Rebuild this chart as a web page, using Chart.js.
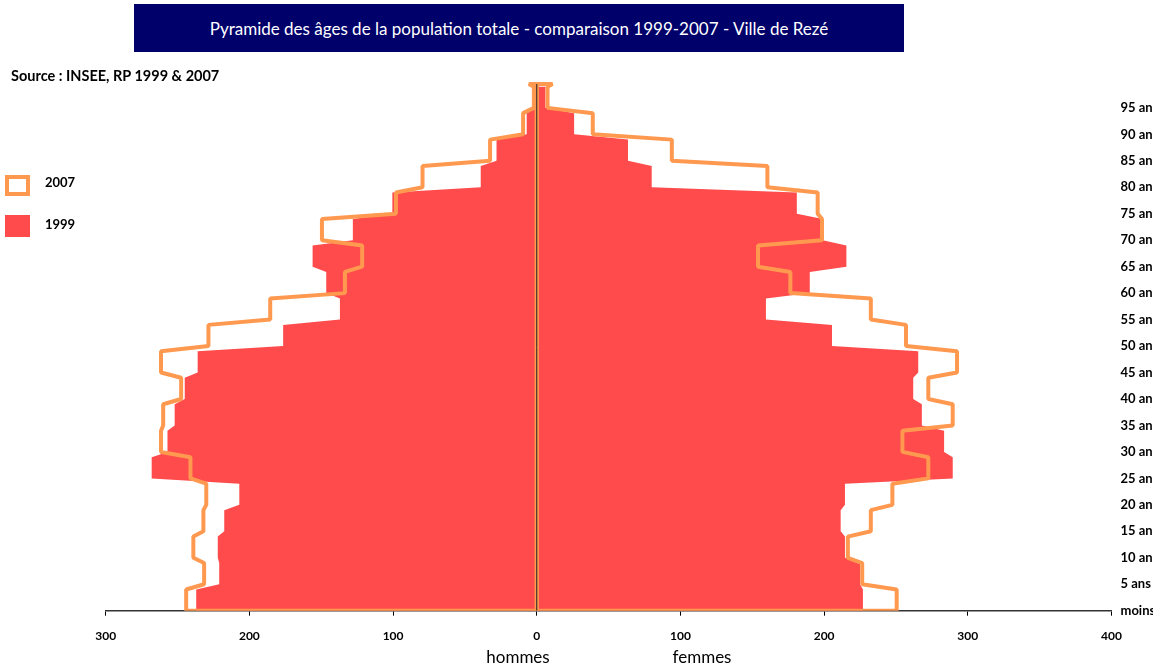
<!DOCTYPE html>
<html>
<head>
<meta charset="utf-8">
<script src="https://cdn.jsdelivr.net/npm/chart.js@4.4.0/dist/chart.umd.min.js"></script>
<style>
  body { margin: 0; background: #fff; font-family: Lato, sans-serif; overflow: hidden; }
  #wrap { position: relative; width: 1171px; height: 668px; }
  #graph { position: absolute; left: 0; top: 0; }
  .txt { position: absolute; color: #000; white-space: nowrap; }
  #titre { position: absolute; left: 134px; top: 4px; width: 770px; height: 48px; background: #00006b;
           color: #fff; font-size: 17px; display: flex; align-items: center; justify-content: center; }
  #source { left: 11px; top: 67px; font-size: 14.5px; font-weight: bold; }
  .boite { position: absolute; left: 5px; width: 25px; box-sizing: border-box; }
  #b2007 { top: 175px; height: 21px; border: 4px solid #ff9950; background: #fff; }
  #b1999 { top: 215px; height: 22px; background: #ff4b4b; }
  .leg { left: 45px; font-size: 13px; font-weight: bold; }
  .sexe { top: 646px; font-size: 17px; transform: translateX(-50%); }
</style>
</head>
<body>
<div id="wrap">
  <canvas id="graph" width="1153" height="668"></canvas>
  <div id="titre">Pyramide des âges de la population totale - comparaison 1999-2007 - Ville de Rezé</div>
  <div id="source" class="txt">Source : INSEE, RP 1999 &amp; 2007</div>
  <div id="b2007" class="boite"></div>
  <div class="txt leg" style="top:174px">2007</div>
  <div id="b1999" class="boite"></div>
  <div class="txt leg" style="top:216px">1999</div>
  <div class="txt sexe" style="left:518px">hommes</div>
  <div class="txt sexe" style="left:702px">femmes</div>
</div>
<script>
// tranches de 5 ans : 0-4, 5-9, ..., 95 et +
const debutsAges = [0, 5, 10, 15, 20, 25, 30, 35, 40, 45, 50, 55, 60, 65, 70, 75, 80, 85, 90, 95];
const etiquettesAges = ['moins de 5 ans', '5 ans', '10 ans', '15 ans', '20 ans', '25 ans', '30 ans',
  '35 ans', '40 ans', '45 ans', '50 ans', '55 ans', '60 ans', '65 ans', '70 ans', '75 ans',
  '80 ans', '85 ans', '90 ans', '95 ans'];

const hommes1999 = [237, 221, 222, 217.5, 207, 268, 257, 252, 245, 236, 176.5, 137, 146.5, 156, 128, 100.5, 39, 28, 7, 1];
const femmes1999 = [227, 225, 214.5, 211.5, 214.5, 289.5, 283.5, 268, 262, 265.5, 205.5, 159.5, 190, 215.5, 199, 181, 80, 63.5, 26, 6];
const hommes2007 = [244, 231.5, 239, 232, 230, 241, 261.5, 260, 247.5, 261.5, 228.5, 185.5, 133.5, 121.5, 149.5, 98, 79.5, 32.5, 9.5, 2];
const femmes2007 = [250.5, 226.5, 216.5, 232.5, 247.5, 272.5, 254.5, 289.5, 272.5, 292.5, 257, 232.5, 176.5, 154, 198.5, 195.5, 160.5, 94, 39, 7.5];
// petit rebord en haut du contour 2007 [hommes, femmes]
const sommet2007 = [5.5, 11];

const rouge = '#ff4b4b';
const orange = '#ff9950';

function marches(valeurs, signe) {
  const pts = [];
  debutsAges.forEach((a, i) => {
    pts.push({ x: signe * valeurs[i], y: a });
    pts.push({ x: signe * valeurs[i], y: a + 4 });
  });
  return pts;
}

// 1999 : une seule surface fermée (hommes en montant, femmes en descendant)
const surface1999 = marches(hommes1999, -1).concat(marches(femmes1999, 1).reverse());
surface1999.push(surface1999[0]);

const haut = 99.5;
function contour2007(valeurs, cap, signe) {
  return [{ x: 0, y: 0 }]
    .concat(marches(valeurs, signe))
    .concat([{ x: signe * cap, y: haut }, { x: 0, y: haut }, { x: 0, y: 0 }]);
}

new Chart(document.getElementById('graph'), {
  type: 'scatter',
  data: {
    datasets: [
      { label: 'axe', data: [{ x: 0, y: 0 }, { x: 0, y: haut }], showLine: true,
        borderColor: '#222', borderWidth: 1, pointRadius: 0 },
      { label: '2007 hommes', data: contour2007(hommes2007, sommet2007[0], -1), showLine: true,
        borderColor: orange, borderWidth: 4, pointRadius: 0, borderJoinStyle: 'bevel' },
      { label: '2007 femmes', data: contour2007(femmes2007, sommet2007[1], 1), showLine: true,
        borderColor: orange, borderWidth: 4, pointRadius: 0, borderJoinStyle: 'bevel' },
      { label: '1999', data: surface1999, showLine: true, fill: 'shape',
        backgroundColor: rouge, borderColor: 'rgba(0,0,0,0)', borderWidth: 0, pointRadius: 0 }
    ]
  },
  options: {
    responsive: false,
    animation: false,
    layout: { padding: { left: 105.7, top: 81.4, right: 0, bottom: 0 } },
    plugins: { legend: { display: false }, tooltip: { enabled: false } },
    scales: {
      x: {
        type: 'linear', position: 'bottom', min: -300, max: 400,
        afterFit: (s) => { s.height = 57.3; },
        grid: { drawOnChartArea: false, drawTicks: true, tickLength: 5, color: '#000' },
        border: { display: true, color: '#333', width: 1.5 },
        ticks: { stepSize: 100, padding: 13, color: '#000',
                 font: { family: 'Lato', size: 12, weight: 'bold' },
                 callback: (v) => Math.abs(v) }
      },
      y: {
        type: 'linear', position: 'right', min: 0, max: 100,
        afterFit: (s) => { s.width = 41.5; },
        grid: { display: false, drawTicks: false },
        border: { display: false },
        ticks: { stepSize: 5, autoSkip: false, padding: 9, color: '#000',
                 font: { family: 'Lato', size: 13, weight: 'bold' },
                 callback: (v) => etiquettesAges[v / 5] || '' }
      }
    }
  }
});
</script>
</body>
</html>
